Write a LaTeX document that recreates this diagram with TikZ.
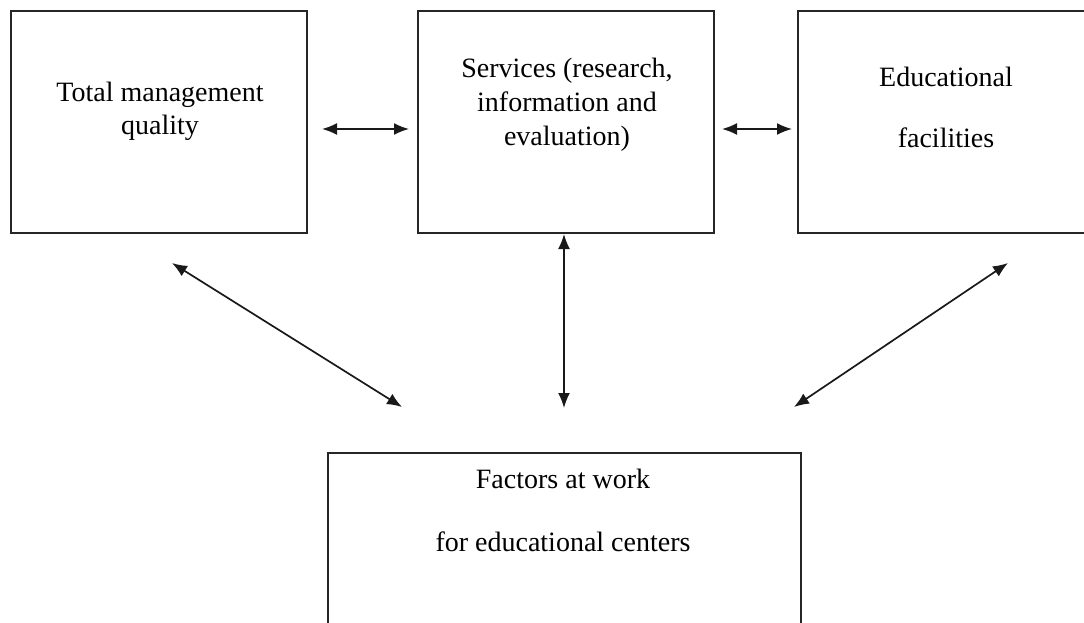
\documentclass[tikz,border=0pt]{standalone}
\usepackage{fontspec}
\setmainfont{Liberation Serif}
\usetikzlibrary{arrows.meta}

\begin{document}
\begin{tikzpicture}[x=1pt, y=-1pt, line width=1.5pt]
\tikzstyle{box_style} = [rectangle, draw=black!85, line width=1.8pt, inner sep=0pt]
\tikzstyle{text_style} = [anchor=base, inner sep=0pt, font=\fontsize{28}{33}\selectfont]
\tikzstyle{arrow_style} = [draw=black!90, line width=1.7pt, {Latex[length=15pt,width=12pt]}-{Latex[length=15pt,width=12pt]}]

\useasboundingbox (0,0) rectangle (1084,623);

\node[box_style, minimum width=296pt, minimum height=222pt] (tmq) at (159,122) {};
\node[box_style, minimum width=296pt, minimum height=222pt] (srv) at (566,122) {};
\node[box_style, minimum width=296pt, minimum height=222pt] (fac) at (946,122) {};
\node[box_style, minimum width=473pt, minimum height=180pt] (fwk) at (564.5,543) {};

\node[text_style] (t1) at (160,102) {Total management};
\node[text_style] (t2) at (160,135) {quality};

\node[text_style] (s1) at (567,78) {Services (research,};
\node[text_style] (s2) at (567,112) {information and};
\node[text_style] (s3) at (567,146) {evaluation)};

\node[text_style] (e1) at (946,87) {Educational};
\node[text_style] (e2) at (946,147) {facilities};

\node[text_style] (f1) at (563,488) {Factors at work};
\node[text_style] (f2) at (563,551) {for educational centers};

% arrow ends
\coordinate (a1) at (322,129);
\coordinate (a2) at (409,129);
\coordinate (a3) at (722,129);
\coordinate (a4) at (792,129);
\coordinate (a5) at (564,234);
\coordinate (a6) at (564,408);
\coordinate (a7) at (172,263);
\coordinate (a8) at (402,407);
\coordinate (a9) at (1008,263);
\coordinate (a10) at (794,407);

\draw[arrow_style] (a1) -- (a2);
\draw[arrow_style] (a3) -- (a4);
\draw[arrow_style] (a5) -- (a6);
\draw[arrow_style] (a7) -- (a8);
\draw[arrow_style] (a9) -- (a10);
\end{tikzpicture}
\end{document}
